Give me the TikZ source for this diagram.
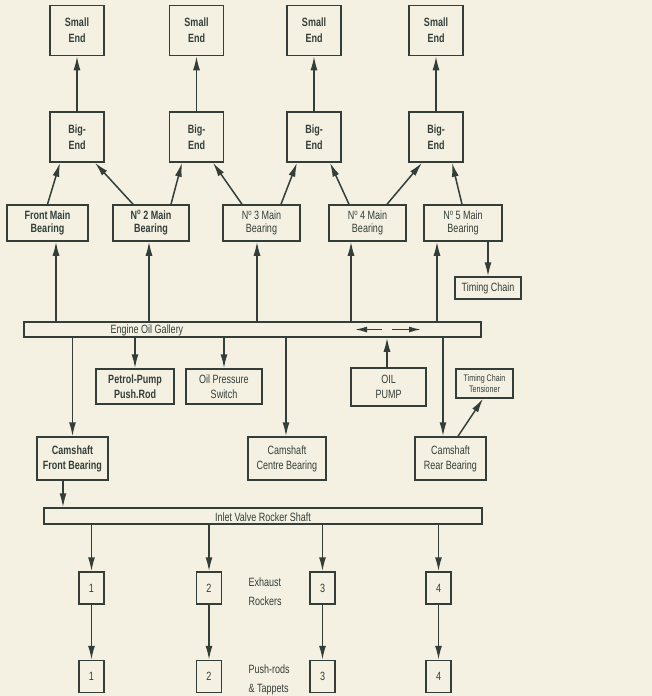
\documentclass[tikz,border=0pt]{standalone}
\usepackage{fontspec}
\setmainfont{Liberation Sans}[FakeStretch=0.75]
\usepackage{tikz}
\usetikzlibrary{arrows.meta, positioning}
\definecolor{paper}{HTML}{F4F1E3}
\definecolor{ink}{HTML}{333E38}

\begin{document}
\begin{tikzpicture}[
    x=1pt, y=-1pt,
    font=\fontsize{12}{15}\selectfont,
    every node/.style={text=ink},
    part/.style={rectangle, draw=ink, line width=1.5pt, fill=paper,
                 align=center, inner sep=0pt},
    heavy/.style={font=\fontsize{12}{15}\selectfont\bfseries},
    rod/.style={part, font=\fontsize{12}{16}\selectfont\bfseries,
                minimum width=54pt, minimum height=50pt},
    brg/.style={part, minimum height=36pt, font=\fontsize{12}{13.5}\selectfont},
    aux/.style={part, minimum height=35pt, font=\fontsize{12}{15}\selectfont},
    cam/.style={part, minimum height=43pt, font=\fontsize{12}{15}\selectfont},
    shaft/.style={part, minimum height=15pt},
    rocker/.style={part, minimum width=25pt, minimum height=32pt},
    arr/.style={draw=ink, line width=1.5pt, -{Latex[length=14pt, width=7pt]}},
    flow/.style={draw=ink, line width=1.4pt, -{Latex[length=12pt, width=6pt]}},
]
\fill[paper] (0,0) rectangle (652,696);
\useasboundingbox (0,0) rectangle (652,696);

% Connecting rods
\node[rod] (big1) at (77,137) {Big-\\End};
\node[rod] (big2) at (196.5,137) {Big-\\End};
\node[rod] (big3) at (314,137) {Big-\\End};
\node[rod] (big4) at (436,137) {Big-\\End};
\node[rod, above=55pt of big1] (small1) {Small\\End};
\node[rod, above=55pt of big2] (small2) {Small\\End};
\node[rod, above=55pt of big3] (small3) {Small\\End};
\node[rod, above=55pt of big4] (small4) {Small\\End};

% Main bearings
\node[brg, font=\fontsize{12}{13.5}\selectfont\bfseries, minimum width=81pt]
    (b1) at (47.5,223) {Front Main\\Bearing};
\node[brg, font=\fontsize{12}{13.5}\selectfont\bfseries, minimum width=76pt]
    (b2) at (151,223) {N\textsuperscript{o}\,2 Main\\Bearing};
\node[brg, minimum width=77pt] (b3) at (261.5,223) {N\textsuperscript{o}\,3 Main\\Bearing};
\node[brg, minimum width=77pt] (b4) at (367.5,223) {N\textsuperscript{o}\,4 Main\\Bearing};
\node[brg, minimum width=78pt] (b5) at (463,223) {N\textsuperscript{o}\,5 Main\\Bearing};
\node[part, minimum width=66pt, minimum height=22pt] (chain) at (488,288) {Timing Chain};

% Gallery and what hangs off it
\node[shaft, minimum width=457pt] (gallery) at (252.5,329.5) {};
\node (galtxt) at (147,330.5) {Engine Oil Gallery};
\node[aux, heavy, minimum width=78pt] (petrol) at (135,386.5) {Petrol-Pump\\Push.Rod};
\node[aux, minimum width=76pt] (switch) at (224,386.5) {Oil Pressure\\Switch};
\node[aux, minimum width=75pt, minimum height=38pt] (pump) at (388.5,387) {OIL\\PUMP};
\node[part, minimum width=57pt, minimum height=29pt, font=\fontsize{9.5}{11}\selectfont]
    (tensioner) at (484.5,383.5) {Timing Chain\\Tensioner};

% Camshaft bearings
\node[cam, heavy, minimum width=71pt] (camf) at (72.5,458.5) {Camshaft\\Front Bearing};
\node[cam, minimum width=78pt] (camc) at (287,458.5) {Camshaft\\Centre Bearing};
\node[cam, minimum width=71pt] (camr) at (450.5,458.5) {Camshaft\\Rear Bearing};

% Rocker shaft, rockers, push-rods
\node[shaft, minimum width=438pt, minimum height=16pt] (rshaft) at (263,516) {};
\node (rtxt) at (263,517) {Inlet Valve Rocker Shaft};
\node[rocker] (r1) at (91.5,588) {1};
\node[rocker] (r2) at (209,588) {2};
\node[rocker] (r3) at (322.5,588) {3};
\node[rocker] (r4) at (438.5,588) {4};
\node[rocker, below=55pt of r1] (p1) {1};
\node[rocker, below=55pt of r2] (p2) {2};
\node[rocker, below=55pt of r3] (p3) {3};
\node[rocker, below=55pt of r4] (p4) {4};
\node[anchor=west, align=left, font=\fontsize{12}{19}\selectfont] (rlbl) at (245,592) {Exhaust\\Rockers};
\node[anchor=west, align=left, font=\fontsize{12}{19}\selectfont] (plbl) at (245,680) {Push-rods\\\& Tappets};

% Big ends to small ends
\draw[arr] (big1) -- (small1);
\draw[arr] (big2) -- (small2);
\draw[arr] (big3) -- (small3);
\draw[arr] (big4) -- (small4);

% Main bearings to big ends
\draw[arr] (b1.north) -- ([xshift=-17pt]big1.south);
\draw[arr] ([xshift=-18pt]b2.north) -- ([xshift=18pt]big1.south);
\draw[arr] ([xshift=20pt]b2.north) -- ([xshift=-14.5pt]big2.south);
\draw[arr] ([xshift=-19.5pt]b3.north) -- ([xshift=16.5pt]big2.south);
\draw[arr] ([xshift=19.5pt]b3.north) -- ([xshift=-17pt]big3.south);
\draw[arr] ([xshift=-18.5pt]b4.north) -- ([xshift=16pt]big3.south);
\draw[arr] ([xshift=19.5pt]b4.north) -- ([xshift=-14pt]big4.south);
\draw[arr] ([xshift=-1pt]b5.north) -- ([xshift=16pt]big4.south);

% Gallery feeds
\draw[arr] ([xshift=8.5pt]b1.south |- gallery.north) -- ([xshift=8.5pt]b1.south);
\draw[arr] ([xshift=-2pt]b2.south |- gallery.north) -- ([xshift=-2pt]b2.south);
\draw[arr] ([xshift=-4.5pt]b3.south |- gallery.north) -- ([xshift=-4.5pt]b3.south);
\draw[arr] ([xshift=-16.5pt]b4.south |- gallery.north) -- ([xshift=-16.5pt]b4.south);
\draw[arr] ([xshift=-26pt]b5.south |- gallery.north) -- ([xshift=-26pt]b5.south);
\draw[arr] (chain.north |- b5.south) -- (chain.north);
\draw[flow] ([xshift=129.5pt]gallery.center) -- ([xshift=102.5pt]gallery.center);
\draw[flow] ([xshift=139.5pt]gallery.center) -- ([xshift=168.5pt]gallery.center);

\draw[arr] (camf.north |- gallery.south) -- (camf.north);
\draw[arr] (petrol.north |- gallery.south) -- (petrol.north);
\draw[arr] (switch.north |- gallery.south) -- (switch.north);
\draw[arr] ([xshift=-1pt]camc.north |- gallery.south) -- ([xshift=-1pt]camc.north);
\draw[arr] ([xshift=-1.5pt]pump.north) -- ([xshift=-1.5pt]pump.north |- gallery.south);
\draw[arr] ([xshift=-7.5pt]camr.north |- gallery.south) -- ([xshift=-7.5pt]camr.north);
\draw[arr] ([xshift=7.5pt]camr.north) -- ([xshift=-1.5pt]tensioner.south);

% Rocker shaft feeds
\draw[arr] ([xshift=-9.5pt]camf.south) -- ([xshift=-9.5pt]camf.south |- rshaft.north);
\draw[arr] (r1.north |- rshaft.south) -- (r1.north);
\draw[arr] (r2.north |- rshaft.south) -- (r2.north);
\draw[arr] (r3.north |- rshaft.south) -- (r3.north);
\draw[arr] (r4.north |- rshaft.south) -- (r4.north);
\draw[arr] (r1) -- (p1);
\draw[arr] (r2) -- (p2);
\draw[arr] (r3) -- (p3);
\draw[arr] (r4) -- (p4);

\end{tikzpicture}
\end{document}
